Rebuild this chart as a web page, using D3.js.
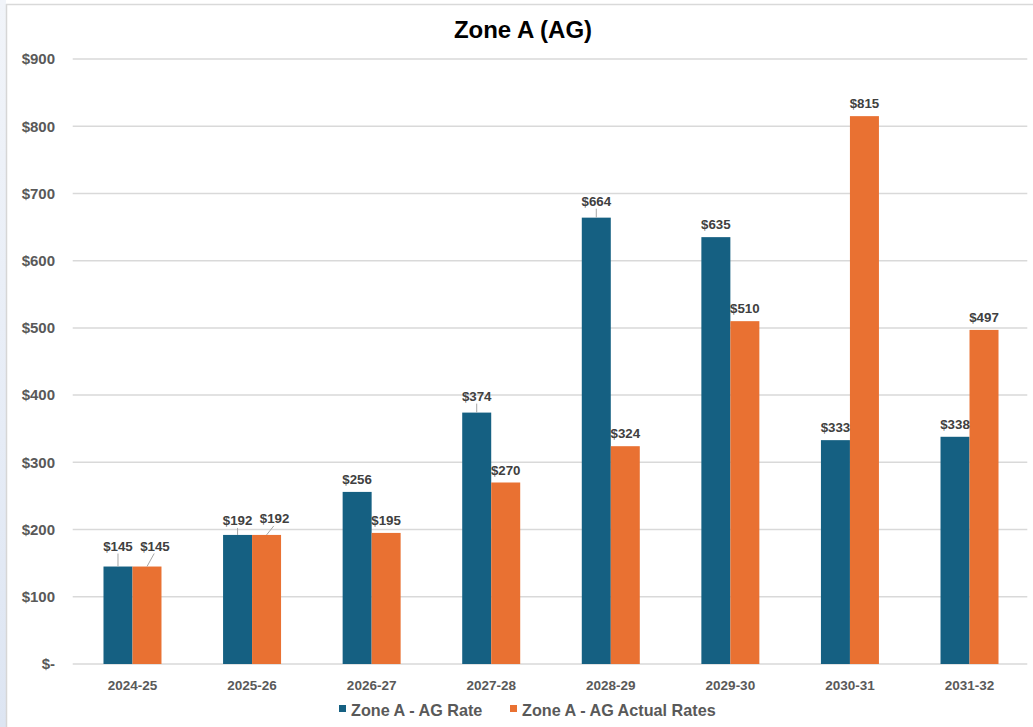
<!DOCTYPE html>
<html>
<head>
<meta charset="utf-8">
<script src="https://cdn.jsdelivr.net/npm/d3@7/dist/d3.min.js"></script>
<style>
  html, body { margin: 0; padding: 0; background: #ffffff; }
  svg { display: block; font-family: "Liberation Sans", Arial, sans-serif; }
</style>
</head>
<body>
<svg id="chart" width="1033" height="727"></svg>
<script>
// Fiscal years and the two rate series for Zone A (AG)
const categories = ["2024-25", "2025-26", "2026-27", "2027-28", "2028-29", "2029-30", "2030-31", "2031-32"];
const agRate = [145, 192, 256, 374, 664, 635, 333, 338];
const agActualRates = [145, 192, 195, 270, 324, 510, 815, 497];
const seriesNames = ["Zone A - AG Rate", "Zone A - AG Actual Rates"];
const yTicks = [0, 100, 200, 300, 400, 500, 600, 700, 800, 900];

const colors = ["#156082", "#E97132"];

// Labels that sit a little off their bar with a short leader line
const leaderLabels = {
  "0-0": { dx: 0, dy: -8 }, "1-0": { dx: 8, dy: -8 },
  "0-1": { dx: 0, dy: -2 }, "1-1": { dx: 8, dy: -4 },
  "0-3": { dx: 0, dy: -4 }, "0-4": { dx: 0, dy: -4 }
};

const svg = d3.select("#chart");
const W = 1033, H = 727;

// Frame: soft blue strip on the left, thin grey borders
const defs = svg.append("defs");
const grad = defs.append("linearGradient").attr("id", "edge").attr("x1", 0).attr("x2", 0).attr("y1", 0).attr("y2", 1);
grad.append("stop").attr("offset", "0%").attr("stop-color", "#f1f4f9");
grad.append("stop").attr("offset", "60%").attr("stop-color", "#e6ecf6");
grad.append("stop").attr("offset", "100%").attr("stop-color", "#dde5f2");
svg.append("rect").attr("x", 0).attr("y", 0).attr("width", 6).attr("height", H).attr("fill", "url(#edge)");
svg.append("line").attr("x1", 6.5).attr("x2", 6.5).attr("y1", 4).attr("y2", H).attr("stroke", "#d6d6d6").attr("stroke-width", 1.5);
svg.append("line").attr("x1", 6).attr("x2", W).attr("y1", 4.5).attr("y2", 4.5).attr("stroke", "#d9d9d9").attr("stroke-width", 1.5);

const plot = { left: 72.7, right: 1029.3, top: 59, bottom: 664 };

const x = d3.scaleBand().domain(categories).range([plot.left, plot.right]).paddingInner(0).paddingOuter(0);
const barW = x.bandwidth() * 0.2425;
const xs = d3.scaleBand().domain([0, 1]).range([-barW, barW]);
const y = d3.scaleLinear().domain([0, 900]).range([plot.bottom, plot.top]);

// Title
svg.append("text").attr("x", 523).attr("y", 38).attr("text-anchor", "middle")
  .attr("font-size", 24).attr("font-weight", "bold").attr("fill", "#000").text("Zone A (AG)");

// Gridlines
svg.append("g").selectAll("line").data(yTicks).join("line")
  .attr("x1", plot.left).attr("x2", plot.right - 2)
  .attr("y1", d => y(d)).attr("y2", d => y(d))
  .attr("stroke", "#d9d9d9").attr("stroke-width", 1.5);

// Y axis labels
const yFmt = d => d === 0 ? "$-" : "$" + d;
const yAxis = d3.axisLeft(y).tickValues(yTicks).tickFormat(yFmt).tickSize(0).tickPadding(0);
const yg = svg.append("g").attr("transform", "translate(55,0)").call(yAxis);
yg.select(".domain").remove();
yg.selectAll("text").attr("font-size", 15).attr("font-weight", "bold").attr("fill", "#595959")
  .attr("font-family", "Liberation Sans, Arial, sans-serif");

// X axis labels
const xAxis = d3.axisBottom(x).tickSize(0).tickPadding(0);
const xg = svg.append("g").attr("transform", `translate(0,${plot.bottom + 16})`).call(xAxis);
xg.select(".domain").remove();
xg.selectAll("text").attr("font-size", 13.5).attr("font-weight", "bold").attr("fill", "#595959")
  .attr("font-family", "Liberation Sans, Arial, sans-serif");

// Bars
const series = [agRate, agActualRates];
const rows = [];
series.forEach((vals, s) => vals.forEach((v, i) => rows.push({ s, i, v, cat: categories[i] })));

svg.append("g").selectAll("rect").data(rows).join("rect")
  .attr("x", d => x(d.cat) + x.bandwidth() / 2 + xs(d.s))
  .attr("width", xs.bandwidth())
  .attr("y", d => y(d.v))
  .attr("height", d => y(0) - y(d.v))
  .attr("fill", d => colors[d.s]);

// Value labels (with short leader lines where the label is offset)
const lg = svg.append("g");
rows.forEach(d => {
  const cx = x(d.cat) + x.bandwidth() / 2 + xs(d.s) + xs.bandwidth() / 2;
  const top = y(d.v);
  const n = leaderLabels[d.s + "-" + d.i];
  const dx = n ? n.dx : 0, dy = n ? n.dy : 0;
  const by = top - 8 + dy;
  if (n) {
    lg.append("line").attr("x1", cx).attr("y1", top)
      .attr("x2", cx + dx * 0.9).attr("y2", by + 3)
      .attr("stroke", "#a6a6a6").attr("stroke-width", 1);
  }
  lg.append("text").attr("x", cx + dx).attr("y", by)
    .attr("text-anchor", "middle").attr("font-size", 13.3).attr("font-weight", "bold")
    .attr("fill", "#404040").text("$" + d.v);
});

// Legend
const legend = svg.append("g").attr("transform", "translate(0,710)");
const legendItems = [{ x: 339, name: seriesNames[0], c: colors[0] }, { x: 510, name: seriesNames[1], c: colors[1] }];
legendItems.forEach(it => {
  legend.append("rect").attr("x", it.x).attr("y", -5).attr("width", 7).attr("height", 7).attr("fill", it.c);
  legend.append("text").attr("x", it.x + 12).attr("y", 5.5).attr("font-size", 16.2).attr("font-weight", "bold")
    .attr("fill", "#595959").text(it.name);
});
</script>
</body>
</html>
